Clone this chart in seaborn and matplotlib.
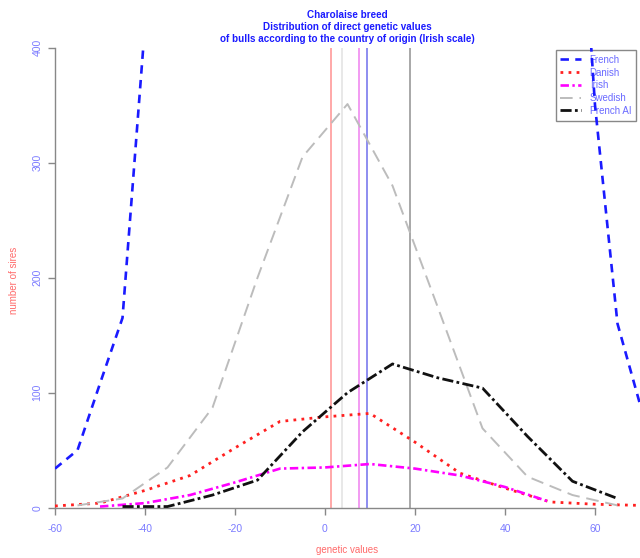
import matplotlib
matplotlib.use("Agg")
import matplotlib.pyplot as plt
import seaborn as sns
import pandas as pd

sns.set_theme(style="white")
plt.rcParams['font.family'] = ['Liberation Sans', 'DejaVu Sans']
plt.rcParams['axes.unicode_minus'] = False

# ---- data ----
french_x = [-60, -55, -50, -45, -40, -35, 55, 60, 65, 70]
french_y = [34, 50, 108, 165, 420, 700, 650, 350, 160, 90]

danish_x = [-60, -50, -40, -30, -20, -10, 0, 10, 20, 30, 40, 50, 60, 70]
danish_y = [1.5, 4, 15, 28, 52, 75, 79, 82, 57, 30, 17, 5, 3, 2]

irish_x = [-50, -40, -30, -20, -10, 0, 10, 20, 30, 40, 50]
irish_y = [1, 4, 11, 22, 34, 35, 38, 34, 28, 18, 5]

swedish_x = [-55, -45, -35, -25, -15, -5, 5, 15, 25, 35, 45, 55, 65]
swedish_y = [2, 8, 35, 87, 200, 305, 351, 280, 175, 69, 27, 11, 2]

frenchai_x = [-45, -35, -25, -15, -5, 5, 15, 25, 35, 45, 55, 65]
frenchai_y = [1, 1, 11, 24, 66, 100, 125, 113, 104, 62, 23, 8]

# group means (vertical lines)
mean_values = [1.4, 3.7, 7.6, 9.3, 18.9]
mean_colors = ['#ff9a9a', '#e4e4e4', '#f08af0', '#7a7aee', '#9a9a9a']

labels = ["French", "Danish", "Irish", "Swedish", "French AI"]
xticks = [-60, -40, -20, 0, 20, 40, 60]
yticks = [0, 100, 200, 300, 400]

series = [
    (french_x, french_y, '#1a1aff', 1.9, (3.2, 2.4)),
    (danish_x, danish_y, '#ff2020', 2.0, (1.0, 1.9)),
    (irish_x, irish_y, '#ff00ff', 1.9, (3.2, 1.3, 0.9, 1.3)),
    (swedish_x, swedish_y, '#bcbcbc', 1.4, (6.5, 3.5)),
    (frenchai_x, frenchai_y, '#111111', 2.0, (4.0, 1.2, 1.0, 1.2)),
]

fig = plt.figure(figsize=(6.4, 5.58), dpi=100)
ax = fig.add_axes([55/640, (558-507.7)/558, (640-55)/640, (507.7-47.7)/558])
ax.set_facecolor('white')

for v, c in zip(mean_values, mean_colors):
    ax.axvline(v, color=c, lw=1.2, zorder=1)

for (xs, ys, col, lw, dash), lab in zip(series, labels):
    df = pd.DataFrame({"x": xs, "y": ys})
    sns.lineplot(data=df, x="x", y="y", ax=ax, color=col, lw=lw,
                 dashes=False, label=lab, zorder=3, sort=True,
                 estimator=None)
    ax.lines[-1].set_dashes(dash)

ax.set_xlim(-60, 70)
ax.set_ylim(0, 400)
ax.set_xticks(xticks)
ax.set_yticks(yticks)
ax.set_xlabel("")
ax.set_ylabel("")
for s in ['top', 'right']:
    ax.spines[s].set_visible(False)
for s in ['left', 'bottom']:
    ax.spines[s].set_color('#888888')
    ax.spines[s].set_linewidth(1.0)
ax.spines['bottom'].set_bounds(-60, 60)
ax.spines['left'].set_bounds(0, 400)
ax.tick_params(axis='both', direction='out', length=5, width=1.0,
               color='#888888', labelcolor='#7b7bff', labelsize=7.5,
               bottom=True, left=True)
ax.tick_params(axis='x', pad=7)
ax.tick_params(axis='y', pad=4)
for t in ax.get_yticklabels():
    t.set_rotation(90)
    t.set_va('center')

leg = ax.legend(loc='upper right', bbox_to_anchor=(636/640, 1-50/558),
                bbox_transform=fig.transFigure, fontsize=7, frameon=True,
                fancybox=False, edgecolor='#888888', framealpha=1,
                handlelength=2.1, handletextpad=0.9, labelspacing=0.28,
                borderpad=0.5, borderaxespad=0)
leg.get_frame().set_linewidth(1.0)
for t in leg.get_texts():
    t.set_color('#6a6aff')
leg.set_zorder(2)

fig.text(347/640, 1-27/558,
         "Charolaise breed\nDistribution of direct genetic values\n"
         "of bulls according to the country of origin (Irish scale)",
         ha='center', va='center', color='#1a1aff', fontsize=7.1,
         fontweight='bold', linespacing=1.28)
fig.text(347/640, 1-550/558, "genetic values", ha='center', va='center',
         color='#ff6a6a', fontsize=7)
fig.text(14/640, 1-280/558, "number of sires", ha='center', va='center',
         color='#ff6a6a', fontsize=7, rotation=90)

fig.savefig("out.png", dpi=100)
